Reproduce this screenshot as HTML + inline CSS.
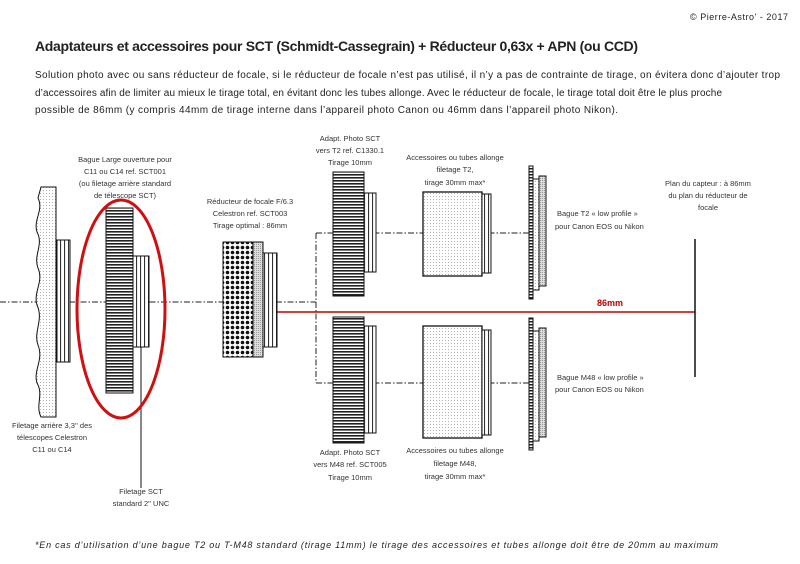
<!DOCTYPE html>
<html><head><meta charset="utf-8"><style>
html,body{margin:0;padding:0;background:#fff;}
svg{display:block;font-family:"Liberation Sans",sans-serif;}
</style></head><body>
<svg width="800" height="564" viewBox="0 0 800 564" xmlns="http://www.w3.org/2000/svg">
<defs>
<pattern id="hl" width="4" height="3" patternUnits="userSpaceOnUse"><rect width="4" height="3" fill="#fff"/><rect width="4" height="1.6" fill="#222"/></pattern>
<pattern id="dots" width="5" height="5" patternUnits="userSpaceOnUse"><rect width="5" height="5" fill="#fff"/><circle cx="2.5" cy="2.5" r="1.8" fill="#111"/></pattern>
<pattern id="fine" width="3" height="3" patternUnits="userSpaceOnUse"><rect width="3" height="3" fill="#fff"/><rect x="1" y="1" width="0.8" height="0.8" fill="#888"/></pattern>
<pattern id="grey" width="2" height="2" patternUnits="userSpaceOnUse"><rect width="2" height="2" fill="#ddd"/><rect width="1" height="1" fill="#999"/></pattern>
<pattern id="thr" width="4" height="6" patternUnits="userSpaceOnUse" patternTransform="skewY(20)"><rect width="4" height="6" fill="#fff"/><rect width="1" height="6" fill="#222"/></pattern>
<pattern id="chk" width="5" height="3" patternUnits="userSpaceOnUse"><rect width="5" height="3" fill="#fff"/><rect width="5" height="1.5" fill="#222"/></pattern>
</defs>
<g fill="#222">
<text x="690" y="20" font-size="9" textLength="98">© Pierre-Astro' - 2017</text>
<text x="35" y="51" font-size="14" font-weight="bold" textLength="603">Adaptateurs et accessoires pour  SCT (Schmidt-Cassegrain) + Réducteur 0,63x + APN (ou CCD)</text>
<text x="35" y="78" font-size="10" textLength="745">Solution photo avec ou sans réducteur de focale, si le réducteur de focale n’est pas utilisé, il n’y a pas de contrainte de tirage, on évitera donc d’ajouter trop</text>
<text x="35" y="96" font-size="10" textLength="687">d’accessoires afin de limiter au mieux le tirage total, en évitant donc les tubes allonge. Avec le réducteur de focale, le tirage total doit être le plus proche</text>
<text x="35" y="113" font-size="10" textLength="583">possible de 86mm (y compris 44mm de tirage interne dans l’appareil photo Canon ou 46mm dans l’appareil photo Nikon).</text>
<text x="35" y="548" font-size="9" font-style="italic" textLength="683">*En cas d’utilisation d’une bague T2 ou T-M48 standard (tirage 11mm) le tirage des accessoires et tubes allonge doit être de 20mm au maximum</text>
</g>
<!-- axes -->
<g stroke="#222" stroke-width="1" fill="none" stroke-dasharray="6,2,1.5,2">
<line x1="0" y1="302" x2="316" y2="302"/>
<line x1="316" y1="233" x2="316" y2="383"/>
<line x1="316" y1="233" x2="529" y2="233"/>
<line x1="316" y1="383" x2="529" y2="383"/>
</g>
<line x1="263" y1="312" x2="695" y2="312" stroke="#c00000" stroke-width="1.5"/>
<text x="597" y="306" font-size="9" font-weight="bold" fill="#c00000">86mm</text>
<line x1="695" y1="239" x2="695" y2="377" stroke="#111" stroke-width="1.5"/>
<!-- left telescope plate -->
<g stroke="#111" stroke-width="1">
<path d="M41 187 H56 V417 H41 C35 405 44 395 37 383 C33 370 44 360 38 345 C33 332 44 320 37 305 C33 292 44 282 38 268 C33 255 44 245 37 232 C33 220 44 210 38 198 Z" fill="url(#fine)"/>
<rect x="57" y="240" width="13" height="122" fill="url(#thr)"/>
<rect x="106" y="208" width="27" height="185" fill="url(#hl)"/>
<rect x="133" y="256" width="16" height="91" fill="url(#thr)"/>
<line x1="141" y1="347" x2="141" y2="488"/>
<rect x="223" y="242" width="30" height="115" fill="url(#dots)"/>
<rect x="253" y="242" width="10" height="115" fill="url(#grey)"/>
<rect x="263" y="253" width="14" height="94" fill="url(#thr)"/>
<!-- upper -->
<rect x="333" y="172" width="31" height="124" fill="url(#hl)"/>
<rect x="364" y="193" width="12" height="79" fill="url(#thr)"/>
<rect x="423" y="192" width="59" height="84" fill="url(#fine)" stroke-width="1.3"/>
<rect x="482" y="194" width="9" height="79" fill="url(#thr)"/>
<rect x="529" y="166" width="4" height="133" fill="url(#chk)"/>
<rect x="533" y="179" width="6" height="111" fill="url(#fine)"/>
<rect x="539" y="176" width="7" height="110" fill="url(#grey)"/>
<!-- lower -->
<rect x="333" y="317" width="31" height="126" fill="url(#hl)"/>
<rect x="364" y="326" width="12" height="107" fill="url(#thr)"/>
<rect x="423" y="326" width="59" height="112" fill="url(#fine)" stroke-width="1.3"/>
<rect x="482" y="330" width="9" height="105" fill="url(#thr)"/>
<rect x="529" y="318" width="4" height="132" fill="url(#chk)"/>
<rect x="533" y="331" width="6" height="110" fill="url(#fine)"/>
<rect x="539" y="328" width="7" height="109" fill="url(#grey)"/>
</g>
<ellipse cx="121" cy="309" rx="44" ry="109" fill="none" stroke="#d01010" stroke-width="3"/>
<g font-size="7.5" fill="#333" text-anchor="middle">
<text x="125" y="162">Bague Large ouverture pour</text>
<text x="125" y="174">C11 ou C14 ref. SCT001</text>
<text x="125" y="186">(ou filetage arrière standard</text>
<text x="125" y="198">de télescope SCT)</text>
<text x="250" y="204">Réducteur de focale F/6.3</text>
<text x="250" y="216">Celestron ref. SCT003</text>
<text x="250" y="228">Tirage optimal : 86mm</text>
<text x="52" y="428">Filetage arrière 3,3'' des</text>
<text x="52" y="440">télescopes Celestron</text>
<text x="52" y="452">C11 ou C14</text>
<text x="141" y="494">Filetage SCT</text>
<text x="141" y="506">standard 2'' UNC</text>
<text x="350" y="141">Adapt. Photo SCT</text>
<text x="350" y="153">vers T2 ref. C1330.1</text>
<text x="350" y="165">Tirage 10mm</text>
<text x="455" y="160">Accessoires ou tubes allonge</text>
<text x="455" y="172">filetage T2,</text>
<text x="455" y="185">tirage 30mm max*</text>
<text x="708" y="186">Plan du capteur : à 86mm</text>
<text x="708" y="198">du plan du réducteur de</text>
<text x="708" y="210">focale</text>
<text x="350" y="455">Adapt. Photo SCT</text>
<text x="350" y="467">vers M48 ref. SCT005</text>
<text x="350" y="480">Tirage 10mm</text>
<text x="455" y="453">Accessoires ou tubes allonge</text>
<text x="455" y="466">filetage M48,</text>
<text x="455" y="479">tirage 30mm max*</text>
</g>
<g font-size="7.5" fill="#333">
<text x="557" y="216">Bague T2 « low profile »</text>
<text x="555" y="229">pour Canon EOS ou Nikon</text>
<text x="557" y="380">Bague M48 « low profile »</text>
<text x="555" y="392">pour Canon EOS ou Nikon</text>
</g>
</svg>
</body></html>
